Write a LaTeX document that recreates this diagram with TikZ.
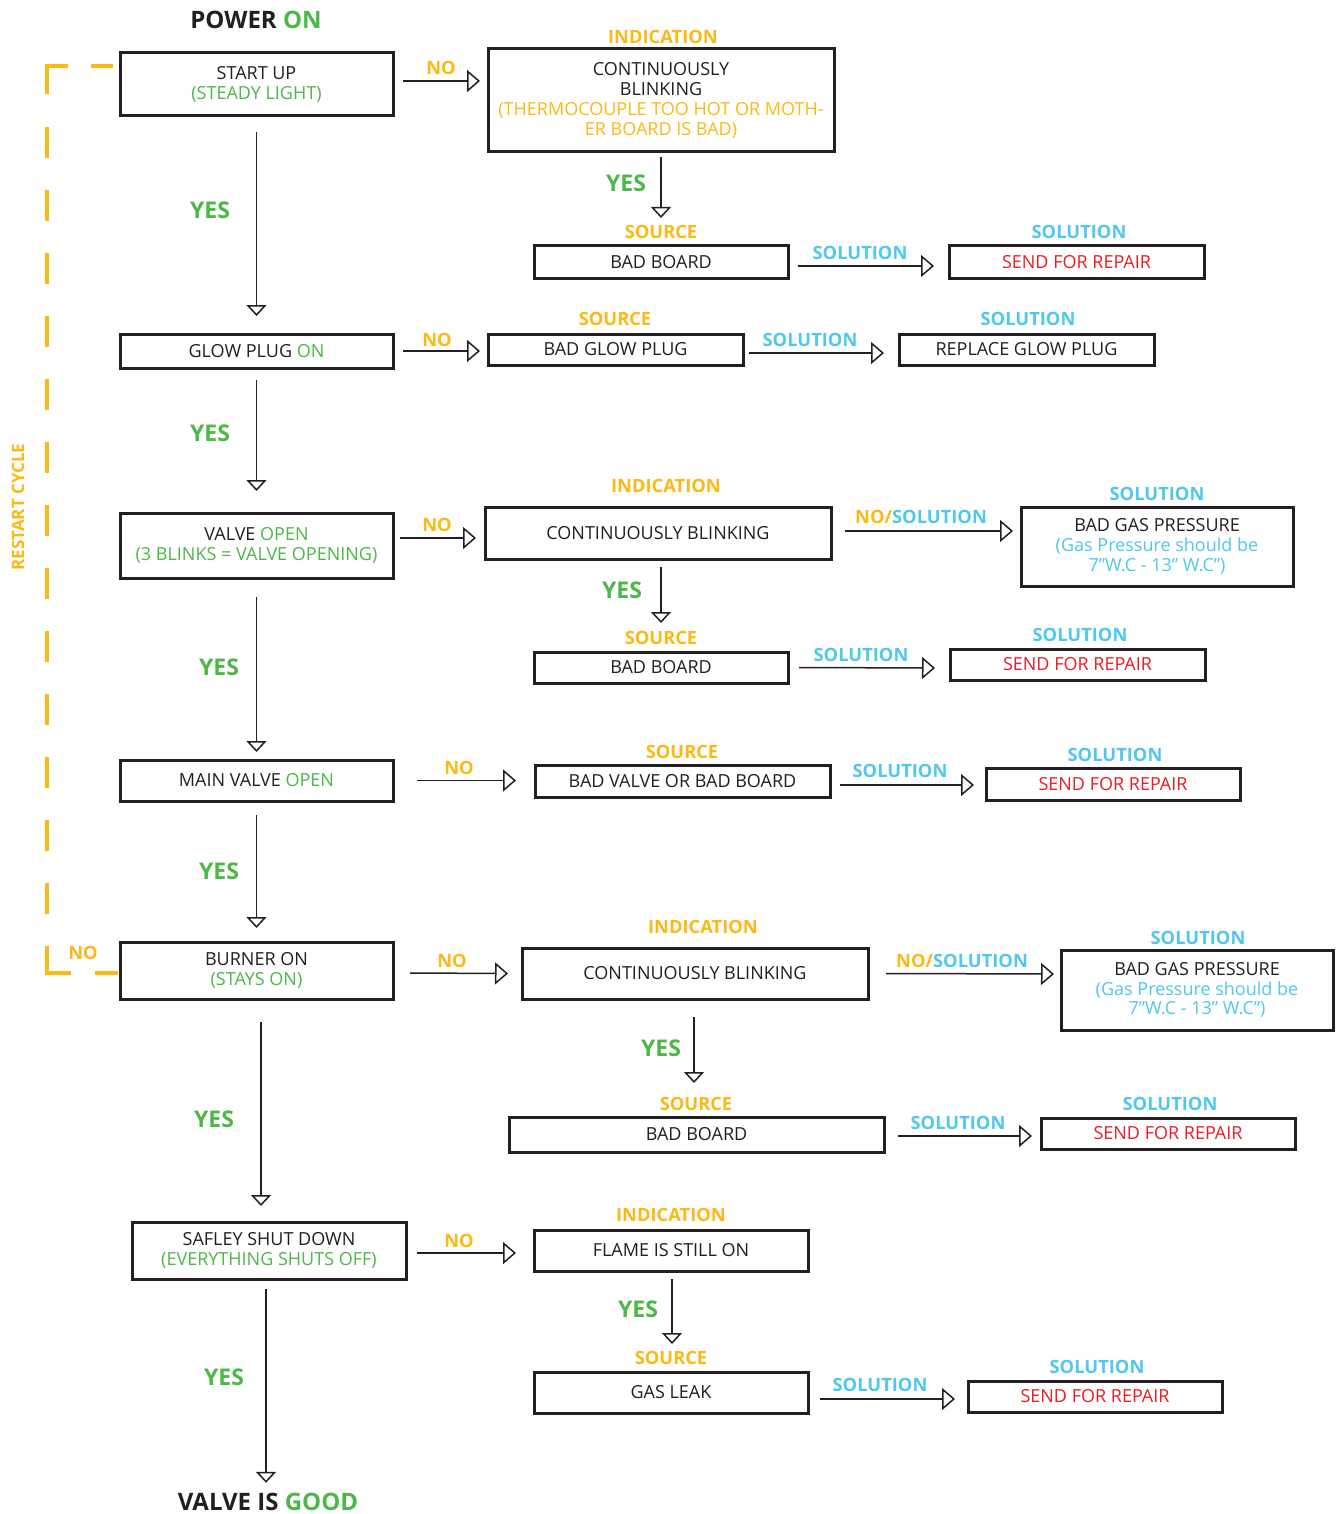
\documentclass[tikz,border=0pt]{standalone}
\usepackage{fontspec}
\setmainfont{Open Sans}
\usetikzlibrary{arrows.meta,calc}
\definecolor{ink}{HTML}{231F20}
\definecolor{yel}{HTML}{FDB913}
\definecolor{grn}{HTML}{4CB848}
\definecolor{blu}{HTML}{4FC8F0}
\definecolor{rd}{HTML}{ED1C24}
\begin{document}
\begin{tikzpicture}[x=1pt,y=-1pt,
 box/.style={draw=ink, line width=3pt, fill=white, inner sep=0pt, outer sep=0pt, align=center, text=ink, font=\fontsize{18}{19.8}\selectfont},
 lab/.style={inner sep=0pt, text height=13pt, text depth=0pt, font=\fontsize{18.3}{20}\selectfont\bfseries},
 nolab/.style={lab, text=yel},
 srclab/.style={lab, text=yel},
 sollab/.style={lab, text=blu},
 yeslab/.style={inner sep=0pt, text height=16pt, text depth=0pt, text=grn, font=\fontsize{23}{25}\selectfont\bfseries},
 ttl/.style={inner sep=0pt, text height=17pt, text depth=0pt, text=ink, font=\fontsize{24}{26}\selectfont\bfseries},
 harr/.style={draw=ink, line width=1.5pt, -{Triangle[open,length=13pt,width=22pt]}},
 varr/.style={draw=ink, line width=1.5pt, -{Triangle[open,length=11pt,width=20pt]}},
 restart/.style={draw=yel, line width=4.2pt, dash pattern=on 22pt off 23pt on 49pt off 33pt
   on 31pt off 32pt on 31pt off 32pt on 31pt off 32pt on 31pt off 32pt on 31pt off 32pt
   on 31pt off 32pt on 31pt off 32pt on 31pt off 32pt on 31pt off 32pt on 31pt off 32pt
   on 31pt off 32pt on 31pt off 32pt on 31pt off 32pt
   on 51pt off 24pt on 24pt off 100pt}
 ]
\useasboundingbox (0,0) rectangle (1335,1514);

% ---------- main column ----------
\node[ttl] (power) at (256,20) {POWER \textcolor{grn}{ON}};
\node[box, minimum width=273pt, minimum height=63pt] (start) at (256.5,84.5) {START UP\\\textcolor{grn}{(STEADY LIGHT)}};
\node[box, minimum width=273pt, minimum height=34pt] (glow) at (256.5,351) {GLOW PLUG \textcolor{grn}{ON}};
\node[box, minimum width=273pt, minimum height=65pt] (valve) at (256.5,545.5) {VALVE \textcolor{grn}{OPEN}\\\textcolor{grn}{(3 BLINKS = VALVE OPENING)}};
\node[box, minimum width=273pt, minimum height=41pt] (main) at (256.5,780.5) {MAIN VALVE \textcolor{grn}{OPEN}};
\node[box, minimum width=273pt, minimum height=57pt] (burner) at (256.5,970.5) {BURNER ON\\\textcolor{grn}{(STAYS ON)}};
\node[box, minimum width=274pt, minimum height=57pt] (shut) at (269,1250.5) {SAFLEY SHUT DOWN\\\textcolor{grn}{(EVERYTHING SHUTS OFF)}};
\node[ttl] (good) at (268,1502) {VALVE IS \textcolor{grn}{GOOD}};

% ---------- row 1 ----------
\node[srclab] (lind1) at (663,37) {INDICATION};
\node[box, minimum width=346pt, minimum height=103pt] (ind1) at (661,100.5) {CONTINUOUSLY\\BLINKING\\\textcolor{yel}{(THERMOCOUPLE TOO HOT OR MOTH-}\\\textcolor{yel}{ER BOARD IS BAD)}};
\node[srclab] (lsrc1) at (661,232) {SOURCE};
\node[box, minimum width=254pt, minimum height=32pt] (src1) at (661,262) {BAD BOARD};
\node[sollab] (lsol1) at (1079,232) {SOLUTION};
\node[box, minimum width=255pt, minimum height=32pt, text=rd] (sol1) at (1076.5,262) {SEND FOR REPAIR};

% ---------- row 2 ----------
\node[srclab] (lsrc2) at (615,319) {SOURCE};
\node[box, minimum width=255pt, minimum height=31pt] (src2) at (615.5,349.5) {BAD GLOW PLUG};
\node[sollab] (lsol2) at (1028,319) {SOLUTION};
\node[box, minimum width=255pt, minimum height=31pt] (sol2) at (1026.5,349.5) {REPLACE GLOW PLUG};

% ---------- row 3 ----------
\node[srclab] (lind3) at (666,486) {INDICATION};
\node[box, minimum width=346pt, minimum height=52pt] (ind3) at (658,533) {CONTINUOUSLY BLINKING};
\node[sollab] (lsol3a) at (1157,494) {SOLUTION};
\node[box, minimum width=272pt, minimum height=79pt] (sol3a) at (1157,546.5) {BAD GAS PRESSURE\\\textcolor{blu}{(Gas Pressure should be}\\\textcolor{blu}{7”W.C - 13” W.C”)}};
\node[srclab] (lsrc3) at (661,638) {SOURCE};
\node[box, minimum width=254pt, minimum height=31pt] (src3) at (661,667.5) {BAD BOARD};
\node[sollab] (lsol3b) at (1080,635) {SOLUTION};
\node[box, minimum width=255pt, minimum height=31pt, text=rd] (sol3b) at (1077.5,664.5) {SEND FOR REPAIR};

% ---------- row 4 ----------
\node[srclab] (lsrc4) at (682,752) {SOURCE};
\node[box, minimum width=295pt, minimum height=32pt] (src4) at (682.5,781) {BAD VALVE OR BAD BOARD};
\node[sollab] (lsol4) at (1115,755) {SOLUTION};
\node[box, minimum width=254pt, minimum height=32pt, text=rd] (sol4) at (1113,784) {SEND FOR REPAIR};

% ---------- row 5 ----------
\node[srclab] (lind5) at (703,927) {INDICATION};
\node[box, minimum width=346pt, minimum height=51pt] (ind5) at (695,973.5) {CONTINUOUSLY BLINKING};
\node[sollab] (lsol5a) at (1198,938) {SOLUTION};
\node[box, minimum width=272pt, minimum height=80pt] (sol5a) at (1197,990) {BAD GAS PRESSURE\\\textcolor{blu}{(Gas Pressure should be}\\\textcolor{blu}{7”W.C - 13” W.C”)}};
\node[srclab] (lsrc5) at (696,1104) {SOURCE};
\node[box, minimum width=375pt, minimum height=35pt] (src5) at (696.5,1134.5) {BAD BOARD};
\node[sollab] (lsol5b) at (1170,1104) {SOLUTION};
\node[box, minimum width=254pt, minimum height=31pt, text=rd] (sol5b) at (1168,1133.5) {SEND FOR REPAIR};

% ---------- row 6 ----------
\node[srclab] (lind6) at (671,1215) {INDICATION};
\node[box, minimum width=274pt, minimum height=41pt] (ind6) at (671,1250.5) {FLAME IS STILL ON};
\node[srclab] (lsrc6) at (671,1358) {SOURCE};
\node[box, minimum width=274pt, minimum height=41pt] (src6) at (671,1392.5) {GAS LEAK};
\node[sollab] (lsol6) at (1097,1367) {SOLUTION};
\node[box, minimum width=254pt, minimum height=31pt, text=rd] (sol6) at (1095,1396.5) {SEND FOR REPAIR};

% ---------- YES labels ----------
\node[yeslab] (y1) at (210,211) {YES};
\node[yeslab] (y2) at (210,433) {YES};
\node[yeslab] (y3) at (219,667) {YES};
\node[yeslab] (y4) at (219,871) {YES};
\node[yeslab] (y5) at (214,1119) {YES};
\node[yeslab] (y6) at (224,1377) {YES};
\node[yeslab] (y7) at (626,184) {YES};
\node[yeslab] (y8) at (622,590) {YES};
\node[yeslab] (y9) at (661,1048) {YES};
\node[yeslab] (y10) at (638,1309) {YES};

% ---------- NO / SOLUTION labels on arrows ----------
\node[nolab] (n1) at (441,68) {NO};
\node[nolab] (n2) at (437,340) {NO};
\node[nolab] (n3) at (437,525) {NO};
\node[nolab] (n4) at (459,768) {NO};
\node[nolab] (n5) at (452,961) {NO};
\node[nolab] (n6) at (459,1241) {NO};
\node[nolab] (n7) at (83,953) {NO};
\node[sollab] (s1) at (860,253) {SOLUTION};
\node[sollab] (s2) at (810,340) {SOLUTION};
\node[lab] (s3) at (921,517) {\textcolor{yel}{NO/}\textcolor{blu}{SOLUTION}};
\node[sollab] (s4) at (861,655) {SOLUTION};
\node[sollab] (s5) at (900,771) {SOLUTION};
\node[lab] (s6) at (962,961) {\textcolor{yel}{NO/}\textcolor{blu}{SOLUTION}};
\node[sollab] (s7) at (958,1123) {SOLUTION};
\node[sollab] (s8) at (880,1385) {SOLUTION};
\node[lab, text=yel, rotate=90, font=\fontsize{17}{18}\selectfont\bfseries, text height=12pt] (rc) at (18,507) {RESTART CYCLE};

% ---------- restart cycle ----------
\draw[restart] ([xshift=-7pt,yshift=18.5pt]start.west) -- ++(-66,0) |- ([xshift=-2pt,yshift=-2.5pt]burner.west);

% ---------- main vertical arrows ----------
\draw[varr] ([yshift=-16pt]start.south) -- ([yshift=18pt]glow.north);
\draw[varr] ([yshift=-12pt]glow.south) -- ([yshift=22pt]valve.north);
\draw[varr] ([yshift=-19pt]valve.south) -- ([yshift=8pt]main.north);
\draw[varr] ([yshift=-14pt]main.south) -- ([yshift=14pt]burner.north);
\draw[varr] ([xshift=4.5pt,yshift=-23pt]burner.south) -- ([xshift=-8pt,yshift=16pt]shut.north);
\draw[varr] ([xshift=-3pt,yshift=-10pt]shut.south) -- ([xshift=-2pt,yshift=10.5pt]good.north);

% ---------- side vertical arrows ----------
\draw[varr] ([yshift=-5pt]ind1.south) -- ([yshift=28pt]src1.north);
\draw[varr] ([xshift=3pt,yshift=-8pt]ind3.south) -- ([yshift=29pt]src3.north);
\draw[varr] ([xshift=-1pt,yshift=-18pt]ind5.south) -- ([xshift=-2.5pt,yshift=34pt]src5.north);
\draw[varr] ([xshift=1pt,yshift=-8pt]ind6.south) -- ([xshift=1pt,yshift=28pt]src6.north);

% ---------- horizontal arrows ----------
\draw[harr] ([xshift=10pt,yshift=3.5pt]start.east) -- ([xshift=-8pt,yshift=19.5pt]ind1.west);
\draw[harr] ([xshift=10pt,yshift=-4pt]src1.east) -- ([xshift=-15pt,yshift=-4pt]sol1.west);
\draw[harr] ([xshift=10pt]glow.east) -- ([xshift=-8pt,yshift=-1.5pt]src2.west);
\draw[harr] ([xshift=6pt,yshift=-3.5pt]src2.east) -- ([xshift=-15pt,yshift=-3.5pt]sol2.west);
\draw[harr] ([xshift=7pt,yshift=7.5pt]valve.east) -- ([xshift=-9pt,yshift=-5pt]ind3.west);
\draw[harr] ([xshift=14pt,yshift=2pt]ind3.east) -- ([xshift=-8pt,yshift=15.5pt]sol3a.west);
\draw[harr] ([xshift=11pt]src3.east) -- ([xshift=-15pt,yshift=-3.5pt]sol3b.west);
\draw[harr] ([xshift=24pt]main.east) -- ([xshift=-19pt,yshift=0.5pt]src4.west);
\draw[harr] ([xshift=10pt,yshift=-4pt]src4.east) -- ([xshift=-12pt,yshift=-1pt]sol4.west);
\draw[harr] ([xshift=17pt,yshift=-2.5pt]burner.east) -- ([xshift=-14pt]ind5.west);
\draw[harr] ([xshift=18pt]ind5.east) -- ([xshift=-7pt,yshift=16pt]sol5a.west);
\draw[harr] ([xshift=14pt,yshift=-1.5pt]src5.east) -- ([xshift=-9pt,yshift=-2.5pt]sol5b.west);
\draw[harr] ([xshift=11pt,yshift=-2.5pt]shut.east) -- ([xshift=-18pt,yshift=-2.5pt]ind6.west);
\draw[harr] ([xshift=12pt,yshift=-6.5pt]src6.east) -- ([xshift=-13pt,yshift=-2.5pt]sol6.west);
\end{tikzpicture}
\end{document}
